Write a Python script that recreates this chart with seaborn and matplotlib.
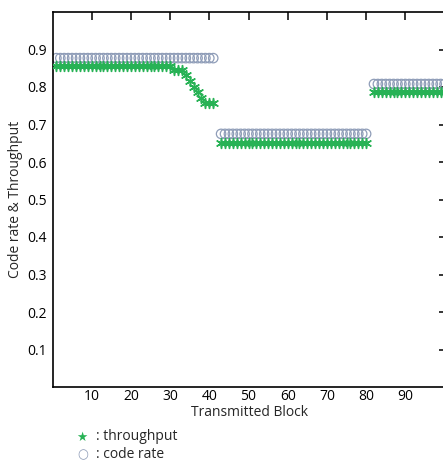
import numpy as np
import pandas as pd
import matplotlib
matplotlib.use("Agg")
import matplotlib.pyplot as plt
import seaborn as sns

# ---- data ----
blocks_seg1 = list(range(1, 42))
blocks_seg2 = list(range(43, 81))
blocks_seg3 = list(range(82, 101))

code_rate_seg1 = [0.877] * 41
code_rate_seg2 = [0.675] * 38
code_rate_seg3 = [0.808] * 19

throughput_seg1 = [0.855] * 30 + [0.845, 0.845, 0.845, 0.832, 0.817, 0.800,
                                  0.787, 0.772, 0.757, 0.757, 0.757]
throughput_seg2 = [0.652] * 38
throughput_seg3 = [0.788] * 19

x_ticks = [10, 20, 30, 40, 50, 60, 70, 80, 90]
y_ticks = [0.1, 0.2, 0.3, 0.4, 0.5, 0.6, 0.7, 0.8, 0.9]

blocks = blocks_seg1 + blocks_seg2 + blocks_seg3
df = pd.DataFrame({
    "block": blocks,
    "code_rate": code_rate_seg1 + code_rate_seg2 + code_rate_seg3,
    "throughput": throughput_seg1 + throughput_seg2 + throughput_seg3,
})

sns.set_style("white")
plt.rcParams["font.family"] = ["Open Sans", "DejaVu Sans"]

W, H = 443, 474
fig = plt.figure(figsize=(W / 100, H / 100), dpi=100)
ax = fig.add_axes([52.5 / W, (H - 387) / H, 394 / W, 375 / H])

circle_color = "#8f9db8"
star_color = "#27b255"

sns.scatterplot(data=df, x="block", y="code_rate", ax=ax, marker="o", s=46,
                facecolors="none", edgecolor=circle_color, linewidth=0.9,
                zorder=2)
sns.scatterplot(data=df, x="block", y="throughput", ax=ax, marker=(6, 2, 0),
                s=50, color=star_color, linewidth=1.1, zorder=3)

ax.set_xlim(0, 100.5)
ax.set_ylim(0, 1)
ax.set_xticks(x_ticks)
ax.set_yticks(y_ticks)
ax.set_xticklabels([str(t) for t in x_ticks])
ax.set_yticklabels([f"{t:.1f}" for t in y_ticks])
ax.tick_params(direction="in", length=6, width=1.1, top=True, right=True,
               labelsize=10, colors="black", pad=1.5)
ax.tick_params(axis="y", pad=4)
for sp in ax.spines.values():
    sp.set_visible(True)
    sp.set_color("black")
    sp.set_linewidth(1.2)

ax.set_xlabel("Transmitted Block", fontsize=10, labelpad=0.5)
ax.set_ylabel("Code rate & Throughput", fontsize=10, labelpad=3)

# custom legend text
fig.text(82 / W, 1 - 437 / H, "★", color=star_color, fontsize=9,
         ha="center", va="center", family="DejaVu Sans")
fig.text(96 / W, 1 - 437 / H, ": throughput", fontsize=10, ha="left",
         va="center")
fig.text(83 / W, 1 - 455 / H, "○", color="#8f9db8", fontsize=9,
         ha="center", va="center", family="DejaVu Sans")
fig.text(96 / W, 1 - 455 / H, ": code rate", fontsize=10, ha="left",
         va="center")

fig.savefig("out.png", dpi=100)
